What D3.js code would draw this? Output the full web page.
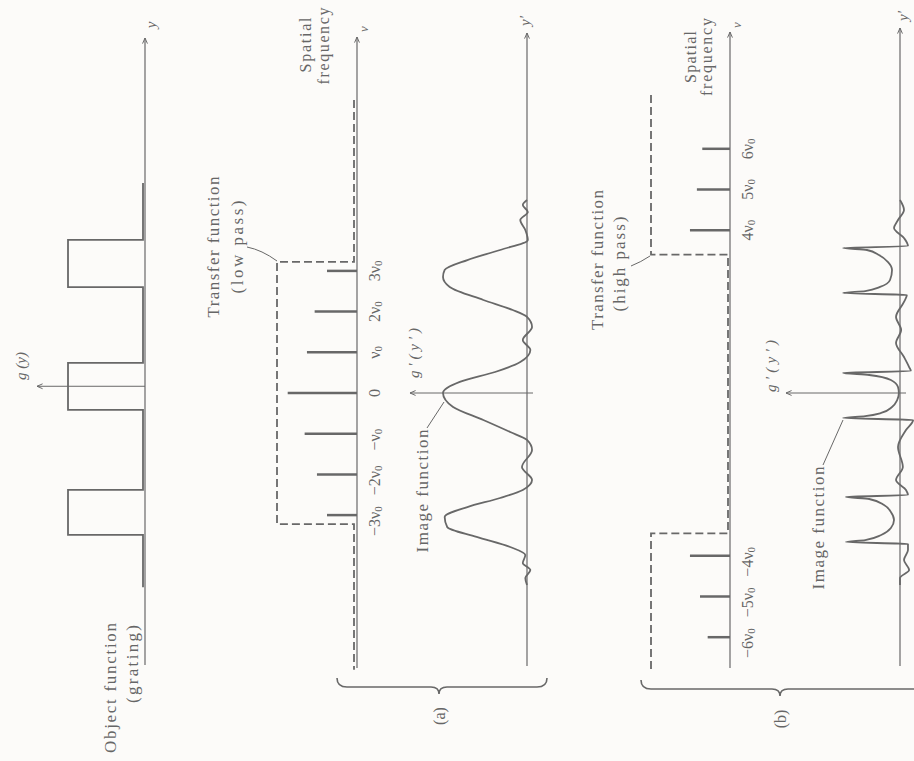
<!DOCTYPE html>
<html><head><meta charset="utf-8">
<script src="https://cdn.jsdelivr.net/npm/d3@7"></script>
<style>
html,body{margin:0;padding:0;background:#fcfbf9;}
svg{display:block;}
text{font-family:"Liberation Serif","DejaVu Serif",serif;fill:#666;}
</style></head>
<body>
<svg id="c" width="914" height="761"></svg>
<script>
// ---------------- DATA ----------------
// positions along the object/image axis, in units of grating period (upwards positive)
const objectPulses = [[1.21, 0.83], [0.218, -0.161], [-0.806, -1.169]];
const objectExtent = [1.67, -1.59];
const objectHeight = 1;

// spectrum (a): harmonic orders (units of ν0) and amplitudes (transfer level = 1)
const freqA = [-3, -2, -1, 0, 1, 2, 3];
const ampA = [0.39, 0.52, 0.68, 0.90, 0.65, 0.55, 0.39];
const labelsA = ["−3ν", "−2ν", "−ν", "0", "ν", "2ν", "3ν"];
const lowPass = [[7.2, 0], [3.22, 0], [3.22, 1], [-3.22, 1], [-3.22, 0], [-6.8, 0]];

// spectrum (b)
const freqB = [-6, -5, -4, 4, 5, 6];
const ampB = [0.29, 0.39, 0.52, 0.52, 0.43, 0.36];
const labelsB = ["−6ν", "−5ν", "−4ν", "4ν", "5ν", "6ν"];
const highPass = [[7.32, 1], [3.4, 1], [3.4, 0], [-3.45, 0], [-3.45, 1], [-6.8, 1]];

// image (a): low-pass image, [position, value]
const imageA = [[1.532,0],[1.492,0.05],[1.435,-0.01],[1.371,0.08],[1.290,0.02],[1.210,-0.01],
[1.129,0.32],[1.048,0.71],[0.968,0.98],[0.911,1.0],[0.831,0.92],[0.726,0.52],[0.645,0.17],
[0.589,0],[0.508,-0.06],[0.403,0.05],[0.323,-0.04],[0.226,0.08],[0.145,0.38],[0.065,0.8],
[-0.024,1.0],[-0.137,0.88],[-0.242,0.52],[-0.339,0.2],[-0.403,0],[-0.484,-0.06],[-0.621,0.06],
[-0.726,-0.06],[-0.806,0.05],[-0.871,0.32],[-0.944,0.71],[-1.024,0.98],[-1.105,0.95],
[-1.185,0.6],[-1.266,0.2],[-1.331,0.02],[-1.395,0.05],[-1.452,-0.04],[-1.516,0.02],[-1.573,0]];

// image (b): high-pass image, [position, value]
const imageB = [[1.532,0],[1.452,-0.07],[1.371,0.035],[1.306,0.105],[1.226,-0.07],[1.161,-0.14],
[1.145,1.0],[1.129,0.58],[1.089,0.37],[1.032,0.21],[0.968,0.14],[0.887,0.175],[0.831,0.35],
[0.798,0.61],[0.782,1.0],[0.766,-0.12],[0.71,-0.07],[0.589,0.07],[0.484,-0.02],[0.379,0.07],
[0.266,-0.07],[0.185,-0.16],[0.153,-0.19],[0.137,1.0],[0.121,0.54],[0.081,0.16],[0.024,0.035],
[-0.024,0.02],[-0.081,0.05],[-0.137,0.14],[-0.185,0.33],[-0.21,0.61],[-0.226,1.0],[-0.242,-0.23],
[-0.323,-0.105],[-0.46,0.035],[-0.621,-0.05],[-0.726,0.07],[-0.806,-0.105],[-0.847,-0.14],
[-0.863,0.95],[-0.879,0.54],[-0.927,0.28],[-0.984,0.16],[-1.048,0.105],[-1.113,0.16],
[-1.169,0.33],[-1.21,0.61],[-1.226,0.95],[-1.242,-0.14],[-1.29,-0.14],[-1.371,-0.07],
[-1.452,-0.16],[-1.516,0],[-1.573,0]];

const centerPos = 0.03;

// ---------------- LAYOUT ----------------
const svg = d3.select("#c");
const INK = "#686868";
const AX = {obj:145, specA:357, imgA:527, specB:730, imgB:900};
const posY = d3.scaleLinear().domain([0, 1]).range([390, 266]);
const freqY = d3.scaleLinear().domain([0, 1]).range([393, 352.3]);
const objX = d3.scaleLinear().domain([0, 1]).range([AX.obj, AX.obj - 75]);
const specAX = d3.scaleLinear().domain([0, 1]).range([AX.specA, AX.specA - 77]);
const specBX = d3.scaleLinear().domain([0, 1]).range([AX.specB, AX.specB - 77]);
const imgAX = d3.scaleLinear().domain([0, 1]).range([AX.imgA, AX.imgA - 84]);
const imgBX = d3.scaleLinear().domain([0, 1]).range([AX.imgB, AX.imgB - 57]);

svg.append("rect").attr("width", 914).attr("height", 761).attr("fill", "#fcfbf9");

const defs = svg.append("defs");
defs.append("marker").attr("id", "ar").attr("viewBox", "0 0 10 10")
  .attr("refX", 9).attr("refY", 5).attr("markerWidth", 7).attr("markerHeight", 7)
  .attr("orient", "auto-start-reverse").attr("markerUnits", "userSpaceOnUse")
  .append("path").attr("d", "M1,1.5 L9,5 L1,8.5").attr("fill", "none")
  .attr("stroke", INK).attr("stroke-width", 1.4);

function arrow(x1, y1, x2, y2, w) {
  svg.append("line").attr("x1", x1).attr("y1", y1).attr("x2", x2).attr("y2", y2)
    .attr("stroke", INK).attr("stroke-width", w || 1.2).attr("marker-end", "url(#ar)");
}
function rtext(x, y, str, opts) {
  opts = opts || {};
  const t = svg.append("text")
    .attr("transform", `translate(${x},${y}) rotate(-90)`)
    .attr("text-anchor", opts.anchor || "middle")
    .attr("dominant-baseline", "central")
    .attr("font-size", opts.size || 17)
    .attr("font-style", opts.italic ? "italic" : null);
  if (opts.len) t.attr("textLength", opts.len).attr("lengthAdjust", "spacing");
  if (opts.sub) {
    t.append("tspan").text(str);
    t.append("tspan").attr("font-size", (opts.size || 17) * 0.68).attr("dy", 4).text(opts.sub);
  } else t.text(str);
  return t;
}

// ---- axes (vertical, arrow at top) ----
arrow(AX.obj, 665, AX.obj, 38);
arrow(AX.specA, 668, AX.specA, 37);
arrow(AX.imgA, 666, AX.imgA, 33);
arrow(AX.specB, 668, AX.specB, 32);
arrow(AX.imgB, 666, AX.imgB, 28);

// axis end labels
rtext(AX.obj + 6, 25, "y", {size: 15, italic: true});
rtext(AX.specA + 6, 29, "ν", {size: 13, italic: true});
rtext(AX.imgA - 2, 21, "y′", {size: 15, italic: true});
rtext(AX.specB + 6, 25, "ν", {size: 13, italic: true});
rtext(AX.imgB + 3, 16, "y′", {size: 15, italic: true});

// ---- object function ----
const objPts = [[objectExtent[0], 0]];
objectPulses.forEach(([a, b]) => { objPts.push([a, 0], [a, objectHeight], [b, objectHeight], [b, 0]); });
objPts.push([objectExtent[1], 0]);
svg.append("path").attr("d", d3.line().x(d => objX(d[1])).y(d => posY(d[0]))(objPts))
  .attr("fill", "none").attr("stroke", INK).attr("stroke-width", 1.8).attr("transform", "translate(-2,0)");
arrow(AX.obj, posY(centerPos), 37, posY(centerPos), 1);
rtext(21, 366, "g (y)", {size: 15, italic: true, len: 28});
rtext(110, 623, "Object function", {anchor: "end", len: 130});
rtext(132, 625, "(grating)", {anchor: "end", len: 78});

// ---- spectrum (a) ----
svg.append("g").selectAll("line").data(freqA).join("line")
  .attr("x1", specAX(0)).attr("x2", (d, i) => specAX(ampA[i]))
  .attr("y1", d => freqY(d)).attr("y2", d => freqY(d))
  .attr("stroke", INK).attr("stroke-width", 2.5);
svg.append("path").attr("d", d3.line().x(d => specAX(d[1])).y(d => freqY(d[0]))(lowPass))
  .attr("fill", "none").attr("stroke", INK).attr("stroke-width", 1.8)
  .attr("stroke-dasharray", "8,4").attr("transform", "translate(-3,0)");
freqA.forEach((f, i) => {
  rtext(AX.specA + 17, freqY(f) + (f < 0 ? 6 : 0), labelsA[i], {size: 16, sub: f === 0 ? null : "0"});
});
rtext(213, 247, "Transfer function", {len: 141});
rtext(237, 247, "(low pass)", {len: 93});
svg.append("path").attr("d", "M247,247 Q262,250 277,261").attr("fill", "none").attr("stroke", INK).attr("stroke-width", 1);
rtext(305, 45, "Spatial", {size: 16, len: 55});
rtext(323, 46, "frequency", {size: 16, len: 77});

// ---- image (a) ----
svg.append("path").attr("d", d3.line().curve(d3.curveMonotoneY).x(d => imgAX(d[1])).y(d => posY(d[0]))(imageA))
  .attr("fill", "none").attr("stroke", INK).attr("stroke-width", 1.8);
arrow(AX.imgA + 6, freqY(0), 410, freqY(0), 1);
rtext(414, 353, "g′(y′)", {size: 15, italic: true, len: 50});
rtext(422, 491, "Image function", {len: 123});
svg.append("line").attr("x1", 427).attr("y1", 428).attr("x2", 444).attr("y2", 402).attr("stroke", INK).attr("stroke-width", 1);

// ---- spectrum (b) ----
svg.append("g").selectAll("line").data(freqB).join("line")
  .attr("x1", specBX(0)).attr("x2", (d, i) => specBX(ampB[i]))
  .attr("y1", d => freqY(d)).attr("y2", d => freqY(d))
  .attr("stroke", INK).attr("stroke-width", 2.5);
svg.append("path").attr("d", d3.line().x(d => specBX(d[1])).y(d => freqY(d[0]))(highPass))
  .attr("fill", "none").attr("stroke", INK).attr("stroke-width", 1.8)
  .attr("stroke-dasharray", "8,4").attr("transform", "translate(-2,0)");
freqB.forEach((f, i) => {
  rtext(AX.specB + 17, freqY(f) + (f < 0 ? 6 : 0), labelsB[i], {size: 16, sub: "0"});
});
rtext(597, 260, "Transfer function", {len: 140});
rtext(619, 264, "(high pass)", {len: 95});
svg.append("path").attr("d", "M631,266 Q641,262 650,256").attr("fill", "none").attr("stroke", INK).attr("stroke-width", 1);
rtext(690, 57, "Spatial", {size: 16, len: 52});
rtext(706, 57, "frequency", {size: 16, len: 78});

// ---- image (b) ----
svg.append("path").attr("d", d3.line().curve(d3.curveMonotoneY).x(d => imgBX(d[1])).y(d => posY(d[0]))(imageB))
  .attr("fill", "none").attr("stroke", INK).attr("stroke-width", 1.8);
arrow(AX.imgB + 6, freqY(0), 786, freqY(0), 1);
rtext(771, 366, "g′(y′)", {size: 15, italic: true, len: 52});
rtext(818, 528, "Image function", {len: 123});
svg.append("line").attr("x1", 823).attr("y1", 465).attr("x2", 843).attr("y2", 420).attr("stroke", INK).attr("stroke-width", 1);

// ---- braces ----
function brace(x1, x2, xm, y) {
  const p = `M${x1},${y - 9} Q${x1},${y} ${x1 + 10},${y} L${xm - 8},${y} Q${xm},${y} ${xm},${y + 7} Q${xm},${y} ${xm + 8},${y} L${x2 - 10},${y} Q${x2},${y} ${x2},${y - 9}`;
  svg.append("path").attr("d", p).attr("fill", "none").attr("stroke", INK).attr("stroke-width", 1.6);
}
brace(337, 547, 439, 687);
brace(641, 940, 780, 689);
rtext(439, 716, "(a)", {size: 16});
rtext(780, 719, "(b)", {size: 16});
</script>
</body></html>
